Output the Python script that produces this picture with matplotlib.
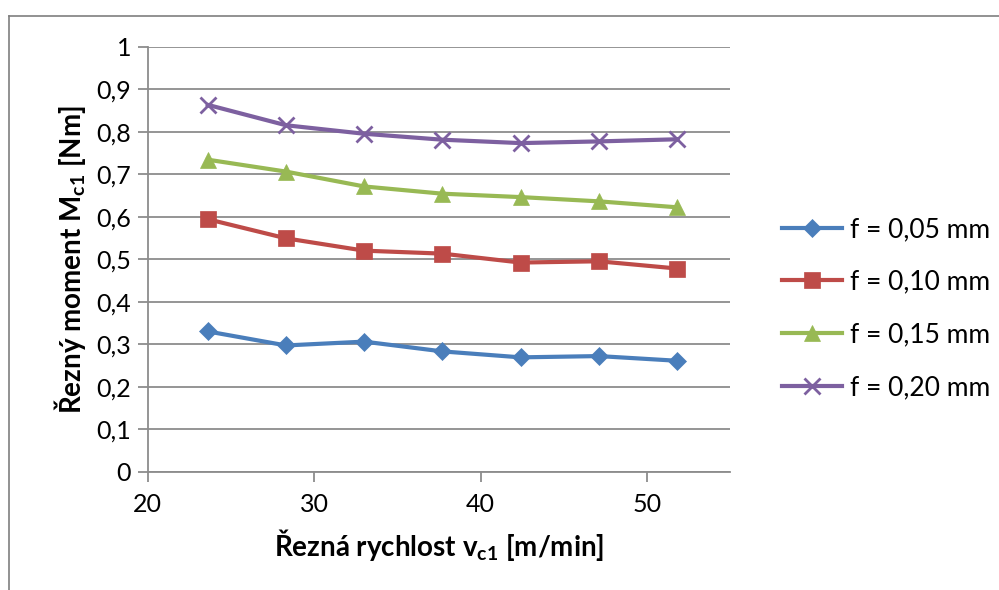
import matplotlib.pyplot as plt
from matplotlib.lines import Line2D

plt.rcParams["font.family"] = ["Lato", "DejaVu Sans"]
plt.rcParams["mathtext.fontset"] = "custom"
plt.rcParams["mathtext.rm"] = "Lato"
plt.rcParams["mathtext.bf"] = "Lato:bold"

# řezná rychlost v_c1 [m/min]
speeds = [23.6, 28.3, 33.0, 37.7, 42.4, 47.1, 51.8]

# řezný moment M_c1 [Nm] pro jednotlivé posuvy
m_f005 = [0.330, 0.297, 0.306, 0.283, 0.269, 0.272, 0.261]
m_f010 = [0.594, 0.549, 0.520, 0.513, 0.492, 0.495, 0.478]
m_f015 = [0.734, 0.706, 0.671, 0.654, 0.646, 0.636, 0.622]
m_f020 = [0.863, 0.815, 0.795, 0.781, 0.773, 0.777, 0.782]

labels = ["f = 0,05 mm", "f = 0,10 mm", "f = 0,15 mm", "f = 0,20 mm"]
y_ticks = [0, 0.1, 0.2, 0.3, 0.4, 0.5, 0.6, 0.7, 0.8, 0.9, 1.0]
y_ticklabels = ["0", "0,1", "0,2", "0,3", "0,4", "0,5", "0,6", "0,7", "0,8", "0,9", "1"]
x_ticks = [20, 30, 40, 50]

series = [m_f005, m_f010, m_f015, m_f020]
colors = ["#4A7EBB", "#BE4B48", "#98B954", "#7D60A0"]
markers = ["D", "s", "^", "x"]
msizes = [9, 11, 11, 11]

fig = plt.figure(figsize=(9.99, 5.9), dpi=100)
ax = fig.add_axes([0.148, 0.2005, 0.583, 0.7205])

for vals, lab, c, m, ms in zip(series, labels, colors, markers, msizes):
    ax.plot(speeds, vals, color=c, marker=m, markersize=ms, linewidth=3.0,
            markeredgewidth=2.0 if m == "x" else 0.5, markeredgecolor=c,
            label=lab, zorder=3)

grid_c = "#8C8C8C"
ax.set_xlim(20, 55)
ax.set_ylim(0, 1)
ax.set_yticks(y_ticks)
ax.set_yticklabels(y_ticklabels)
ax.set_xticks(x_ticks)
ax.yaxis.grid(True, color=grid_c, linewidth=1.3)
ax.set_axisbelow(True)
for s in ["top", "right"]:
    ax.spines[s].set_visible(False)
for s in ["left", "bottom"]:
    ax.spines[s].set_color(grid_c)
    ax.spines[s].set_linewidth(1.3)
ax.tick_params(axis="both", colors=grid_c, width=1.3, length=7, labelsize=18,
               labelcolor="black", pad=5)
ax.tick_params(axis="x", pad=8)

ax.set_xlabel(r"Řezná rychlost v$_{\mathbf{c1}}$ [m/min]", fontsize=20,
              fontweight="bold", labelpad=8)
ax.set_ylabel(r"Řezný moment M$_{\mathbf{c1}}$ [Nm]", fontsize=20,
              fontweight="bold", labelpad=6)

ax.legend(loc="center left", bbox_to_anchor=(1.07, 0.384), frameon=False,
          fontsize=19, handlelength=2.3, labelspacing=1.05, handletextpad=0.3,
          borderaxespad=0)

# rámeček grafu (Excel)
fig.add_artist(Line2D([0.009, 1.0], [1 - 16 / 590, 1 - 16 / 590],
                      transform=fig.transFigure, color="#7F7F7F", linewidth=1.2))
fig.add_artist(Line2D([0.009, 0.009], [0.0, 1 - 16 / 590],
                      transform=fig.transFigure, color="#7F7F7F", linewidth=1.2))

fig.savefig("out.png", dpi=100)
